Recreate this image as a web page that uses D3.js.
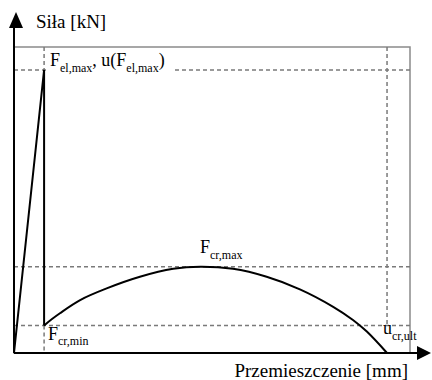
<!DOCTYPE html>
<html>
<head>
<meta charset="utf-8">
<script src="https://cdn.jsdelivr.net/npm/d3@7"></script>
<style>
  html, body { margin: 0; padding: 0; background: #fff; }
</style>
</head>
<body>
<div id="chart"></div>
<script>
// wartości w umownych jednostkach (0..100)
const elasticU = [0, 7.6];
const elasticF = [0, 92.5];
const dropU = [7.6, 7.6];
const dropF = [92.5, 9.0];
const curveU = [7.6, 9.6, 11.6, 16.7, 23.4, 31.8, 40.2, 47.0, 55.3, 63.8, 72.2, 80.6, 85.6, 89.1, 94.2];
const curveF = [9.0, 11.1, 13.0, 17.3, 21.1, 24.9, 27.5, 28.2, 27.5, 24.9, 20.8, 15.1, 10.8, 7.0, 0];
const levelF = [92.5, 28.2, 9.0];   // F_el,max, F_cr,max, F_cr,min
const levelU = [7.6, 94.2];         // u(F_el,max), u_cr,ult

const serif = 'Liberation Serif';
const width = 432, height = 380;

const svg = d3.select('#chart').append('svg')
  .attr('width', width)
  .attr('height', height);

const x = d3.scaleLinear().domain([0, 100]).range([14, 410]);
const y = d3.scaleLinear().domain([0, 100]).range([353, 47]);

// szara ramka
svg.append('rect')
  .attr('x', x(0)).attr('y', y(100))
  .attr('width', x(100) - x(0)).attr('height', y(0) - y(100))
  .attr('fill', 'none').attr('stroke', '#8a8a8a').attr('stroke-width', 1.5);

// linie pomocnicze
const dashed = svg.append('g')
  .attr('stroke', '#7a7a7a').attr('stroke-width', 1.5)
  .attr('stroke-dasharray', '4,3').attr('fill', 'none');

levelF.forEach(f => {
  dashed.append('line')
    .attr('x1', x(0)).attr('x2', x(100))
    .attr('y1', y(f)).attr('y2', y(f));
});
dashed.append('line')
  .attr('x1', x(levelU[0])).attr('x2', x(levelU[0]))
  .attr('y1', y(100)).attr('y2', y(levelF[0]));
dashed.append('line')
  .attr('x1', x(levelU[0])).attr('x2', x(levelU[0]))
  .attr('y1', y(levelF[2])).attr('y2', y(0));
dashed.append('line')
  .attr('x1', x(levelU[1])).attr('x2', x(levelU[1]))
  .attr('y1', y(100)).attr('y2', y(levelF[2]));

// tło pod etykietą F_el,max
svg.append('rect')
  .attr('x', 47).attr('y', 52).attr('width', 126).attr('height', 24)
  .attr('fill', '#fff');

// osie
const axes = svg.append('g').attr('stroke', '#000').attr('stroke-width', 2);
axes.append('line')
  .attr('x1', x(0)).attr('x2', x(0))
  .attr('y1', y(0)).attr('y2', 22);
axes.append('line')
  .attr('x1', x(0)).attr('x2', 420)
  .attr('y1', y(0)).attr('y2', y(0));

svg.append('path')
  .attr('d', `M${x(0) + 2},12 L${x(0) - 5},28 L${x(0) + 9},28 Z`)
  .attr('fill', '#000');
svg.append('path')
  .attr('d', `M431,${y(0)} L417,${y(0) - 7} L417,${y(0) + 7} Z`)
  .attr('fill', '#000');

// wykres siła-przemieszczenie
const line = d3.line().x(d => x(d[0])).y(d => y(d[1]));
const smooth = d3.line().x(d => x(d[0])).y(d => y(d[1])).curve(d3.curveCatmullRom.alpha(0.5));

svg.append('path')
  .attr('d', line(d3.zip(elasticU, elasticF).concat(d3.zip(dropU, dropF))))
  .attr('fill', 'none').attr('stroke', '#000').attr('stroke-width', 2);
svg.append('path')
  .attr('d', smooth(d3.zip(curveU, curveF)))
  .attr('fill', 'none').attr('stroke', '#000').attr('stroke-width', 2);

// etykiety
function label(px, py, parts, size = 18) {
  const t = svg.append('text').attr('x', px).attr('y', py)
    .style('font-family', serif)
    .attr('fill', '#000').attr('font-size', size);
  parts.forEach(p => {
    t.append('tspan')
      .style('font-family', serif)
      .attr('font-size', p.sub ? 12 : size)
      .attr('dy', p.dy || 0)
      .text(p.t);
  });
  return t;
}

label(36, 28, [{ t: 'Siła [kN]' }], 19);
label(50, 66, [
  { t: 'F' }, { t: 'el,max', sub: true, dy: 6 },
  { t: ', u(F', dy: -6 }, { t: 'el,max', sub: true, dy: 6 },
  { t: ')', dy: -6 }
]);
label(200, 253, [{ t: 'F' }, { t: 'cr,max', sub: true, dy: 6 }]);
label(48, 340, [{ t: 'F' }, { t: 'cr,min', sub: true, dy: 5 }]);
label(383, 334, [{ t: 'u' }, { t: 'cr,ult', sub: true, dy: 6 }]);

svg.append('text')
  .attr('x', 408).attr('y', 377)
  .attr('text-anchor', 'end')
  .style('font-family', serif)
  .attr('font-size', 19)
  .text('Przemieszczenie [mm]');
</script>
</body>
</html>
